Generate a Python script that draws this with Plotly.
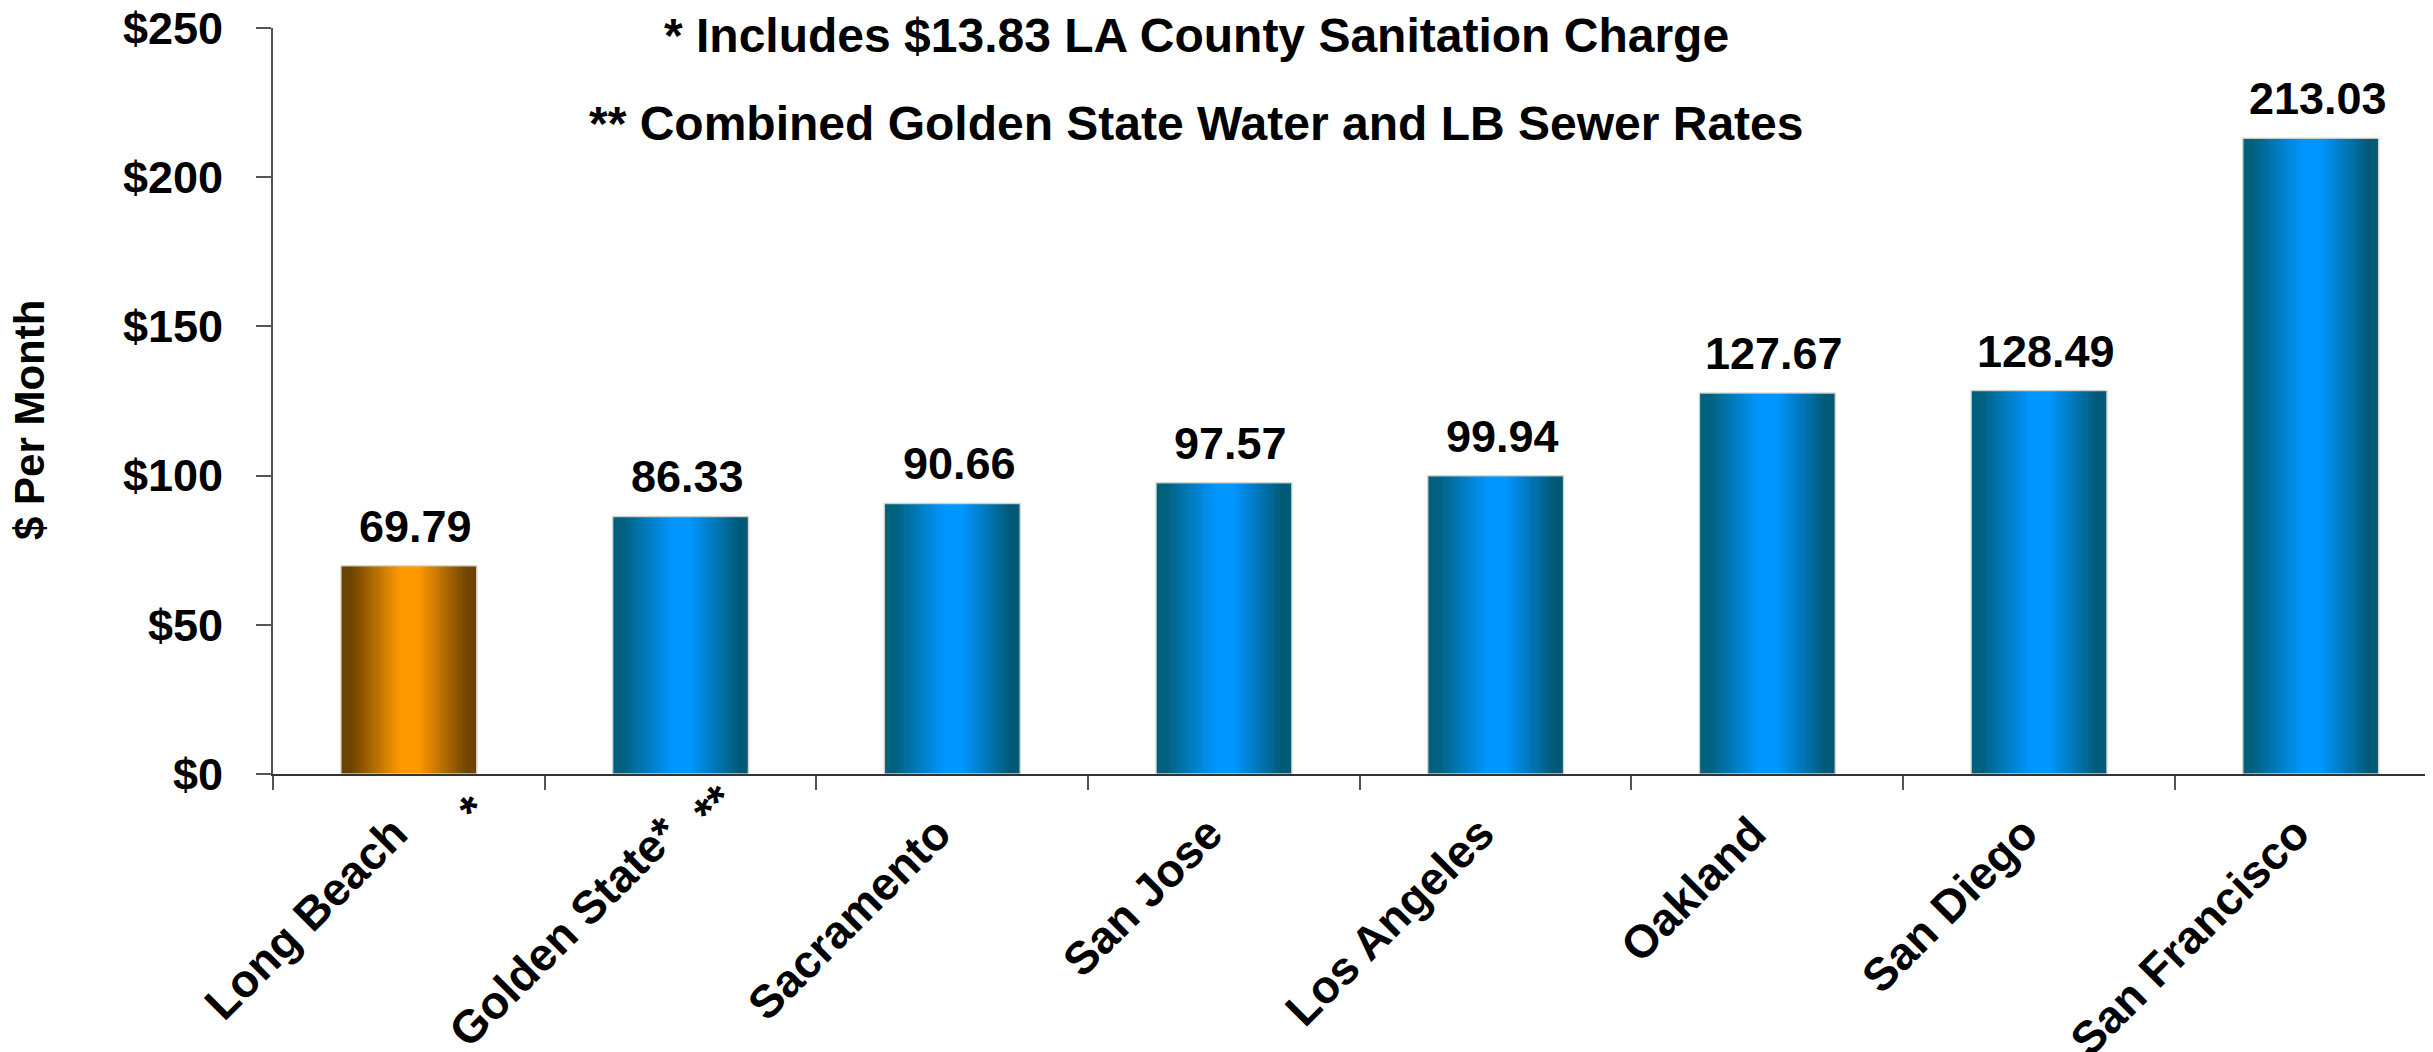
import plotly.graph_objects as go

# ---------------- data ----------------
cities = ["Long Beach", "Golden State*", "Sacramento", "San Jose",
          "Los Angeles", "Oakland", "San Diego", "San Francisco"]
rates = [69.79, 86.33, 90.66, 97.57, 99.94, 127.67, 128.49, 213.03]
highlight = "Long Beach"
y_ticks = [0, 50, 100, 150, 200, 250]
y_tick_labels = ["$0", "$50", "$100", "$150", "$200", "$250"]
note_1 = "* Includes $13.83 LA County Sanitation Charge"
note_2 = "** Combined Golden State Water and LB Sewer Rates"
y_title = "$ Per Month"

# ---------------- style ----------------
FONT = "Liberation Sans, Arial, Helvetica, sans-serif"
W, H = 2433, 1052
OFF = 8  # page body margin offsets the figure by 8px
ML, MR, MT, MB = 273 - OFF, OFF, 28 - OFF, 278 + OFF

BLUE_DARK_L = (0, 96, 125)
BLUE_BRIGHT = (0, 150, 255)
BLUE_DARK_R = (0, 90, 118)
OR_DARK_L = (108, 66, 0)
OR_BRIGHT = (255, 153, 0)
OR_DARK_R = (110, 68, 0)


def profile(t, dl, br, dr):
    stops = [(0.0, dl), (0.07, dl), (0.44, br), (0.57, br), (0.93, dr), (1.0, dr)]
    for (t0, c0), (t1, c1) in zip(stops[:-1], stops[1:]):
        if t0 <= t <= t1:
            f = 0 if t1 == t0 else (t - t0) / (t1 - t0)
            r, g, b = (round(a + (b_ - a) * f) for a, b_ in zip(c0, c1))
            return f"rgb({r},{g},{b})"
    return f"rgb{dr}"


fig = go.Figure()

N = 48
BAR_W = 0.5
slice_w = BAR_W / N
for k in range(N):
    t = (k + 0.5) / N
    cols = [profile(t, OR_DARK_L, OR_BRIGHT, OR_DARK_R) if c == highlight
            else profile(t, BLUE_DARK_L, BLUE_BRIGHT, BLUE_DARK_R) for c in cities]
    w = slice_w * 1.25 if k < N - 1 else slice_w
    fig.add_trace(go.Bar(
        x=cities, y=rates, width=w, offset=-BAR_W / 2 + k * slice_w,
        marker=dict(color=cols, line=dict(width=0)),
        hoverinfo="skip", showlegend=False))

# thin light outline of each bar
fig.add_trace(go.Bar(
    x=cities, y=rates, width=BAR_W, offset=-BAR_W / 2,
    marker=dict(color="rgba(0,0,0,0)", line=dict(color="rgba(215,215,205,0.9)", width=1.5)),
    hovertemplate="%{x}: %{y:.2f}<extra></extra>", showlegend=False))

plot_w = W - ML - MR
plot_h = H - MT - MB


def px_x(sx):  # screen pixel -> paper x
    return (sx - OFF - ML) / plot_w


def px_y(sy):  # screen pixel -> paper y
    return (H - MB - (sy - OFF)) / plot_h


annotations = []
for c, v in zip(cities, rates):
    annotations.append(dict(
        x=c, y=v, xref="x", yref="y", text=f"{v:.2f}", showarrow=False,
        yanchor="bottom", xanchor="center", yshift=12, xshift=7,
        font=dict(family=FONT, size=45, color="black", weight="bold")))

# notes
annotations.append(dict(x=px_x(1196), y=px_y(35), xref="paper", yref="paper",
                        text=note_1, showarrow=False, xanchor="center", yanchor="middle",
                        font=dict(family=FONT, size=48, color="black", weight="bold")))
annotations.append(dict(x=px_x(1196), y=px_y(124), xref="paper", yref="paper",
                        text=note_2, showarrow=False, xanchor="center", yanchor="middle",
                        font=dict(family=FONT, size=48, color="black", weight="bold")))

# y title
annotations.append(dict(x=px_x(29), y=px_y(420), xref="paper", yref="paper",
                        text=y_title, showarrow=False, textangle=-90,
                        xanchor="center", yanchor="middle",
                        font=dict(family=FONT, size=42, color="black", weight="bold")))

# footnote markers near category labels
annotations.append(dict(x=cities[0], y=0, xref="x", yref="y", text="*", showarrow=False,
                        textangle=-45, xanchor="center", yanchor="middle",
                        xshift=64, yshift=-36,
                        font=dict(family=FONT, size=46, color="black", weight="bold")))
annotations.append(dict(x=cities[1], y=0, xref="x", yref="y", text="**", showarrow=False,
                        textangle=-45, xanchor="center", yanchor="middle",
                        xshift=33, yshift=-32,
                        font=dict(family=FONT, size=46, color="black", weight="bold")))

fig.update_layout(
    width=W, height=H,
    margin=dict(l=ML, r=MR, t=MT, b=MB, pad=0, autoexpand=False),
    paper_bgcolor="white", plot_bgcolor="white",
    barmode="overlay",
    showlegend=False,
    annotations=annotations,
    xaxis=dict(
        type="category", range=[-0.5, 7.45], tickson="boundaries",
        ticks="outside", ticklen=14, tickwidth=2, tickcolor="#555",
        showline=True, linecolor="#333", linewidth=2,
        showgrid=False, tickangle=-45, automargin=False,
        ticklabelstandoff=12, ticklabelshift=-15, ticklabeloverflow="allow",
        tickfont=dict(family=FONT, size=46, color="black", weight="bold"),
    ),
    yaxis=dict(
        range=[0, 250], tickvals=y_ticks, ticktext=y_tick_labels,
        ticks="outside", ticklen=15, tickwidth=2, tickcolor="#555",
        showline=True, linecolor="#555", linewidth=2, automargin=False,
        showgrid=False, zeroline=False, ticklabelstandoff=24,
        ticklabeloverflow="allow",
        tickfont=dict(family=FONT, size=45, color="black", weight="bold"),
    ),
)

fig.write_html("out.html")
